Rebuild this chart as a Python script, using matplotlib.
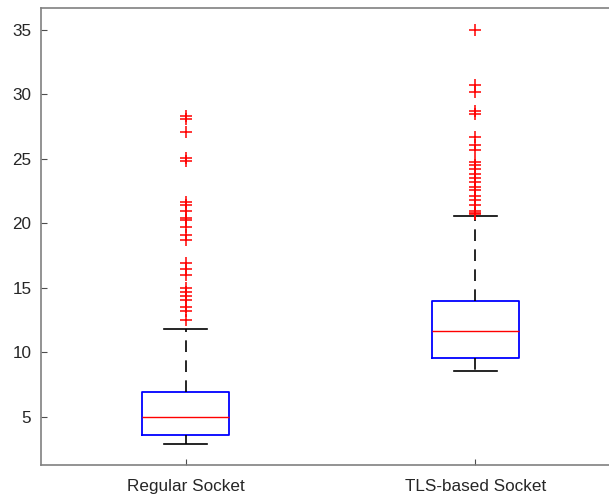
import matplotlib
matplotlib.use("Agg")
import matplotlib.pyplot as plt

categories = ["Regular Socket", "TLS-based Socket"]
medians = [5.0, 11.67]
q1s = [3.58, 9.6]
q3s = [6.94, 14.0]
whisker_low = [2.9, 8.57]
whisker_high = [11.84, 20.6]
regular_outliers = [28.3, 28.1, 27.1, 25.05, 24.85, 21.7, 21.4, 21.0, 20.4, 20.3,
                    19.75, 19.1, 18.7, 16.9, 16.5, 16.0, 15.0, 14.7, 14.4, 14.1,
                    13.5, 13.2, 12.5]
tls_outliers = [35.0, 30.74, 30.2, 28.7, 28.5, 26.7, 26.1, 25.7, 24.8, 24.5, 24.2,
                23.8, 23.5, 23.2, 22.8, 22.6, 22.1, 21.8, 21.4, 21.0, 20.8, 20.7]
y_ticks = [5, 10, 15, 20, 25, 30, 35]

plt.rcParams['font.family'] = ['Liberation Sans', 'DejaVu Sans']

fig = plt.figure(figsize=(6.09, 4.96), dpi=100)
ax = fig.add_axes([41/609, 31/496, (620-41)/609, (465-8)/496])

stats = []
for i, name in enumerate(categories):
    stats.append(dict(label=name, med=medians[i], q1=q1s[i], q3=q3s[i],
                      whislo=whisker_low[i], whishi=whisker_high[i],
                      fliers=[regular_outliers, tls_outliers][i]))

ax.bxp(stats, positions=[1, 2], widths=0.3, showfliers=True,
       boxprops=dict(color='#0000ff', linewidth=1.3),
       medianprops=dict(color='#ff0000', linewidth=1.0),
       whiskerprops=dict(color='black', linewidth=1.2, linestyle=(0, (7, 5))),
       capprops=dict(color='black', linewidth=1.2),
       capwidths=0.15,
       flierprops=dict(marker='+', markeredgecolor='#ff0000', markersize=9,
                       markeredgewidth=1.1, linestyle='none'))

ax.set_xlim(0.5, 2.5)
ax.set_ylim(1.28, 36.7)
ax.set_yticks(y_ticks)
ax.set_xticks([1, 2])
ax.set_xticklabels(categories)
ax.tick_params(direction='in', length=4, width=0.8, color='0.3',
               labelsize=12.3, labelcolor='0.15')
ax.tick_params(axis='y', pad=7)
ax.tick_params(axis='x', pad=10)
for s in ax.spines.values():
    s.set_color('0.5')
    s.set_linewidth(1.2)

fig.savefig("out.png", dpi=100)
